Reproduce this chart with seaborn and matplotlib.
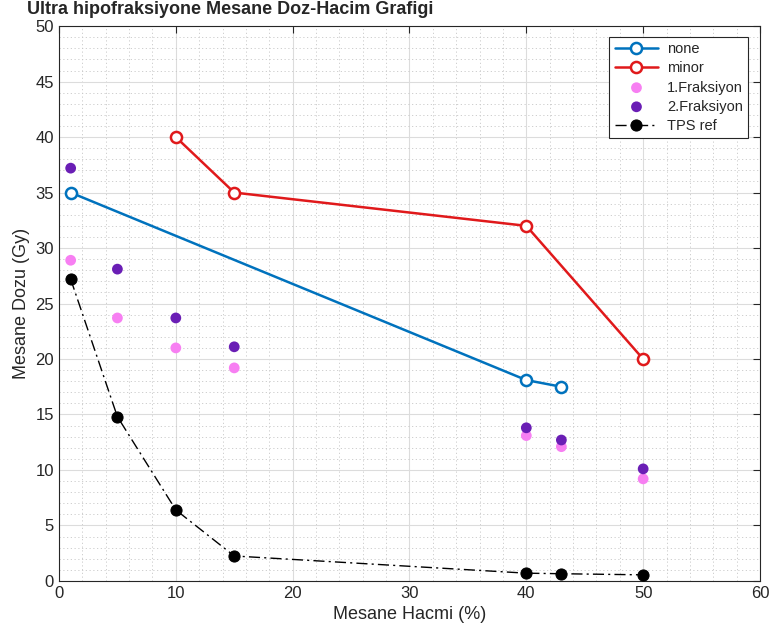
import matplotlib
matplotlib.use("Agg")
import matplotlib.pyplot as plt
import seaborn as sns
import pandas as pd
from matplotlib.ticker import MultipleLocator

none_x = [1, 40, 43]
none_y = [35.0, 18.1, 17.5]
minor_x = [10, 15, 40, 50]
minor_y = [40.0, 35.0, 32.0, 20.0]
frak_x = [1, 5, 10, 15, 40, 43, 50]
frak1_y = [28.9, 23.7, 21.0, 19.2, 13.1, 12.1, 9.2]
frak2_y = [37.2, 28.1, 23.7, 21.1, 13.8, 12.7, 10.1]
tps_x = [1, 5, 10, 15, 40, 43, 50]
tps_y = [27.2, 14.8, 6.4, 2.25, 0.7, 0.65, 0.55]

sns.set_style("white")
plt.rcParams['font.family'] = ['Liberation Sans', 'DejaVu Sans']

fig = plt.figure(figsize=(7.7, 6.37), dpi=100)
ax = fig.add_axes([0.0766, 0.088, 0.9104, 0.871])

blue = '#0072BD'
red = '#E0191B'
pink = '#F77FF2'
purple = '#6A1EB5'

sns.lineplot(x=none_x, y=none_y, ax=ax, color=blue, lw=1.8, marker='o', markersize=8,
             markerfacecolor='white', markeredgecolor=blue, markeredgewidth=1.8, label='none', zorder=3)
sns.lineplot(x=minor_x, y=minor_y, ax=ax, color=red, lw=1.8, marker='o', markersize=8,
             markerfacecolor='white', markeredgecolor=red, markeredgewidth=1.8, label='minor', zorder=3)
sns.scatterplot(x=frak_x, y=frak1_y, ax=ax, color=pink, s=60, edgecolor='none', label='1.Fraksiyon', zorder=4)
sns.scatterplot(x=frak_x, y=frak2_y, ax=ax, color=purple, s=60, edgecolor='none', label='2.Fraksiyon', zorder=4)
sns.lineplot(x=tps_x, y=tps_y, ax=ax, color='black', lw=1.0, linestyle=(0, (8, 3, 1.5, 3)), marker='o', markersize=8,
             markerfacecolor='black', markeredgecolor='black', label='TPS ref', zorder=4)

ax.set_xlim(0, 60)
ax.set_ylim(0, 50)
ax.xaxis.set_major_locator(MultipleLocator(10))
ax.xaxis.set_minor_locator(MultipleLocator(2))
ax.yaxis.set_major_locator(MultipleLocator(5))
ax.yaxis.set_minor_locator(MultipleLocator(1))
ax.grid(which='major', color='#dcdcdc', lw=0.8)
ax.grid(which='minor', color='#c8c8c8', lw=0.6, linestyle=(0, (1.5, 3)))
ax.set_axisbelow(True)
ax.tick_params(which='both', direction='in', top=True, right=True, labelsize=12, colors='#262626')
ax.tick_params(which='major', length=5)
ax.tick_params(which='minor', length=0)
for s in ax.spines.values():
    s.set_color('#262626')
    s.set_linewidth(0.8)

ax.set_xlabel('Mesane Hacmi (%)', fontsize=13, color='#262626')
ax.set_ylabel('Mesane Dozu (Gy)', fontsize=13, color='#262626')
fig.text(0.035, 0.998, 'Ultra hipofraksiyone Mesane Doz-Hacim Grafigi', fontsize=13,
         fontweight='bold', ha='left', va='top')

leg = ax.legend(loc='upper right', fontsize=10.5, frameon=True, fancybox=False,
                edgecolor='#262626', framealpha=1, borderpad=0.35, handlelength=3.0,
                handletextpad=0.6, labelspacing=0.35, borderaxespad=0,
                bbox_to_anchor=(0.983, 0.98))
leg.get_frame().set_linewidth(0.8)

fig.savefig('out.png', dpi=100)
